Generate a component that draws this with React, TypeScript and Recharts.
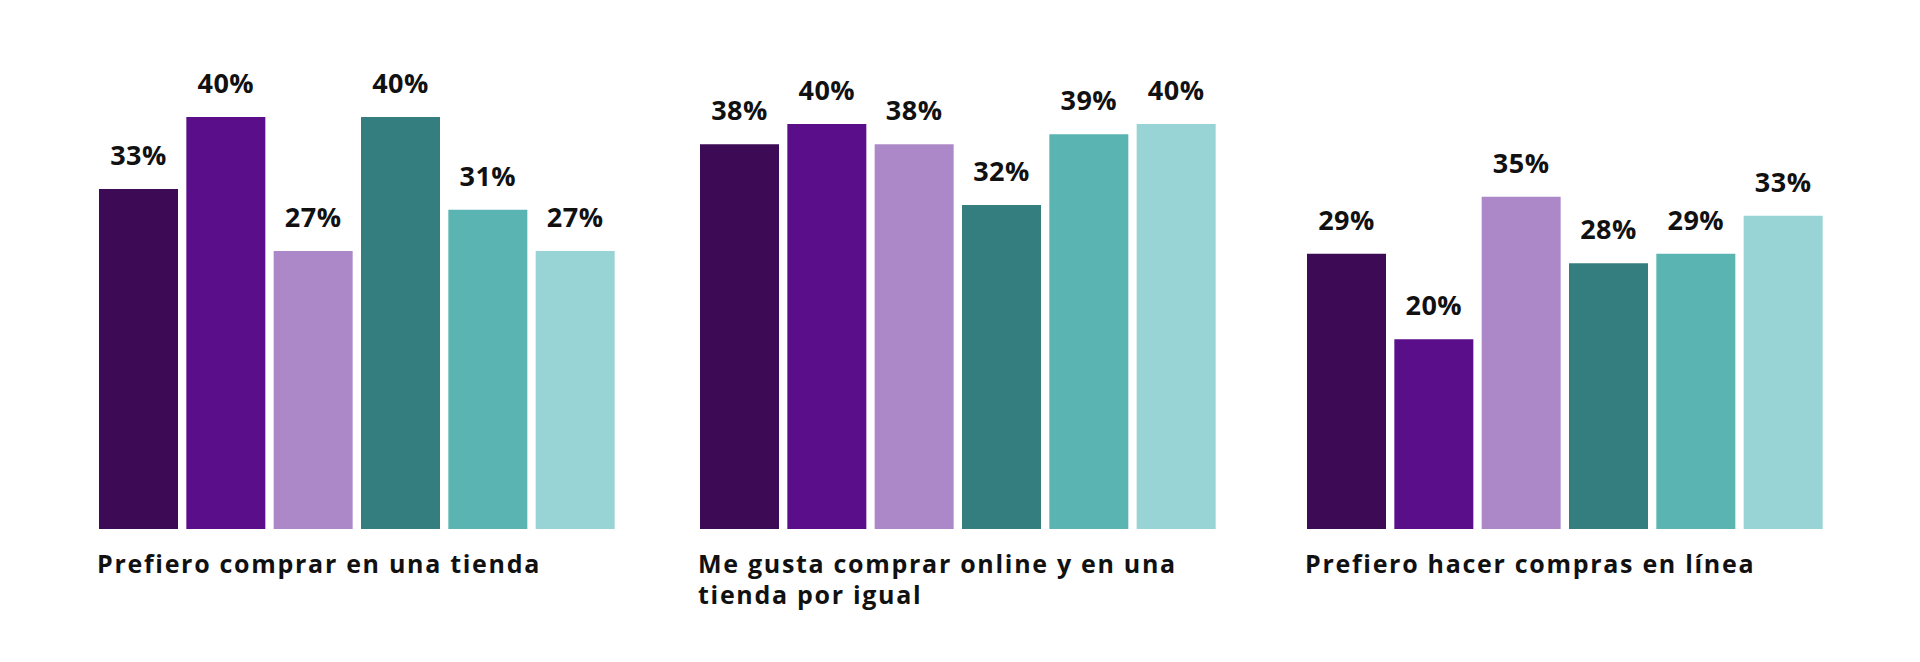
import React from 'react';
import { BarChart, Bar, XAxis, YAxis, Cell, LabelList } from 'recharts';

// ---- data ----
const segments = ['Segmento 1', 'Segmento 2', 'Segmento 3', 'Segmento 4', 'Segmento 5', 'Segmento 6'];
const questions = [
  'Prefiero comprar en una tienda',
  'Me gusta comprar online y en una tienda por igual',
  'Prefiero hacer compras en línea',
];
const storeValues = [33, 40, 27, 40, 31, 27];
const bothValues = [38, 40, 38, 32, 39, 40];
const onlineValues = [29, 20, 35, 28, 29, 33];

// ---- styles ----
const colors = ['#3D0B55', '#5B0E8A', '#AC88C9', '#347E7F', '#5AB5B2', '#98D4D5'];
const FONT = '"Open Sans", "DejaVu Sans", sans-serif';

const panels = [
  { values: storeValues, title: [questions[0]], left: 95, domainMax: 40 },
  { values: bothValues, title: ['Me gusta comprar online y en una', 'tienda por igual'], left: 696, domainMax: 40.7 },
  { values: onlineValues, title: [questions[2]], left: 1303, domainMax: 43.4 },
];

function Panel({ values, title, left, domainMax }: { values: number[]; title: string[]; left: number; domainMax: number }) {
  const rows = segments.map((s, i) => ({ segment: s, value: values[i] }));
  return (
    <div style={{ position: 'absolute', left, top: 0, width: 524, height: 662 }}>
      <BarChart
        width={524}
        height={662}
        data={rows}
        margin={{ top: 117, right: 0, bottom: 133, left: 0 }}
        barCategoryGap={4}
      >
        <XAxis dataKey="segment" hide />
        <YAxis hide domain={[0, domainMax]} />
        <Bar dataKey="value" isAnimationActive={false}>
          {rows.map((r, i) => (
            <Cell key={r.segment} fill={colors[i]} />
          ))}
          <LabelList
            dataKey="value"
            position="top"
            offset={24}
            formatter={(v: any) => `${v}%`}
            style={{ fontFamily: FONT, fontWeight: 700, fontSize: 27, fill: '#111111', letterSpacing: 0.5 }}
          />
        </Bar>
      </BarChart>
      <div
        style={{
          position: 'absolute',
          left: 2,
          top: 548,
          fontFamily: FONT,
          fontWeight: 700,
          fontSize: 25,
          lineHeight: '31px',
          letterSpacing: '1.7px',
          color: '#111111',
          whiteSpace: 'nowrap',
        }}
      >
        {title.map((t) => (
          <div key={t}>{t}</div>
        ))}
      </div>
    </div>
  );
}

export default function App() {
  return (
    <div style={{ position: 'absolute', left: 0, top: 0, width: 1920, height: 662, background: '#ffffff', overflow: 'hidden' }}>
      {panels.map((p) => (
        <Panel key={p.left} {...p} />
      ))}
    </div>
  );
}
